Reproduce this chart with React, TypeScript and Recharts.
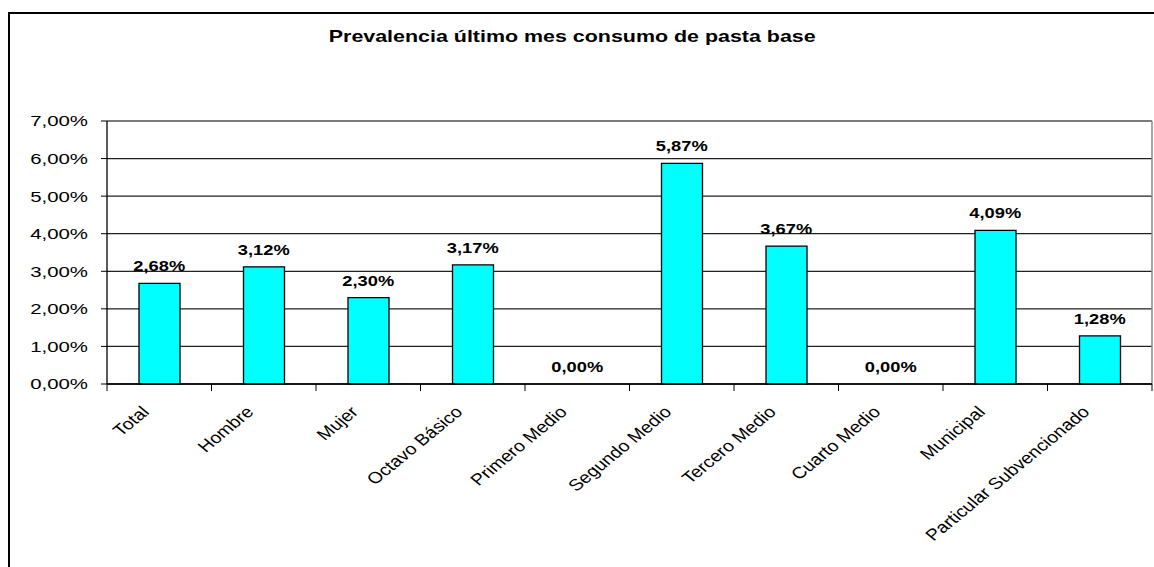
import { ComposedChart, Bar, Line, XAxis, YAxis, CartesianGrid, LabelList, ReferenceLine } from 'recharts'

const categories = [
  'Total',
  'Hombre',
  'Mujer',
  'Octavo Básico',
  'Primero Medio',
  'Segundo Medio',
  'Tercero Medio',
  'Cuarto Medio',
  'Municipal',
  'Particular Subvencionado',
]
const prevalence = [2.68, 3.12, 2.3, 3.17, 0, 5.87, 3.67, 0, 4.09, 1.28]
const yTicks = [0, 1, 2, 3, 4, 5, 6, 7]

const data = categories.map((name, i) => ({ name, value: prevalence[i] }))

const W = 1144
const H = 553
const Y_W = 97
const RIGHT = 2
const BAND = (W - Y_W - RIGHT) / categories.length
const FONT = '"Liberation Sans", Arial, sans-serif'

const pct = (v: number) => v.toFixed(2).replace('.', ',') + '%'

function YTick({ x, y, payload }: any) {
  return (
    <g transform={`translate(${x},${y})`}>
      <text transform="scale(1.36,1)" textAnchor="end" dy="0.36em" fontSize={15} fontFamily={FONT} fill="#000">
        {pct(payload.value)}
      </text>
    </g>
  )
}

function XTick({ x, y, payload, index }: any) {
  const half = BAND / 2
  return (
    <g>
      <line x1={x - half} x2={x - half} y1={y} y2={y + 7} stroke="#000" />
      {index === categories.length - 1 && <line x1={x + half} x2={x + half} y1={y} y2={y + 7} stroke="#000" />}
      <g transform={`translate(${x - 9},${y + 29}) scale(1.22,1) rotate(-45)`}>
        <text textAnchor="end" fontSize={16} fontFamily={FONT} fill="#000">
          {payload.value}
        </text>
      </g>
    </g>
  )
}

function ValueLabel({ x, y, value }: any) {
  return (
    <g transform={`translate(${x},${y - 12})`}>
      <text transform="scale(1.22,1)" textAnchor="middle" fontSize={15} fontWeight="bold" fontFamily={FONT} fill="#000">
        {pct(value)}
      </text>
    </g>
  )
}

// gray frame on the right edge of the plot
const rightEdge = ({ offset }: any) => [offset.left + offset.width]

export default function App() {
  return (
    <>
      <style>{'html,body{margin:0;overflow:hidden;background:#fff}'}</style>
      <div
        style={{
          position: 'absolute',
          left: 8,
          top: 12,
          width: 1146,
          height: H + 2,
          boxSizing: 'border-box',
          overflow: 'hidden',
          borderTop: '2px solid #000',
          borderLeft: '2px solid #000',
          background: '#fff',
        }}
      >
        <div
          style={{
            position: 'absolute',
            left: 0,
            top: 13,
            width: 1124,
            textAlign: 'center',
            fontFamily: FONT,
            fontWeight: 'bold',
            fontSize: 17,
            lineHeight: '20px',
          }}
        >
          <span style={{ display: 'inline-block', transform: 'scaleX(1.26)' }}>
            Prevalencia último mes consumo de pasta base
          </span>
        </div>
        <div style={{ position: 'absolute', left: 0, top: 0 }}>
          <ComposedChart width={W} height={H} data={data} margin={{ top: 107, right: RIGHT, left: 0, bottom: 0 }}>
            <CartesianGrid vertical={false} stroke="#222" strokeWidth={1.3} />
            <CartesianGrid horizontal={false} verticalCoordinatesGenerator={rightEdge} stroke="#888" strokeWidth={1.5} />
            <ReferenceLine y={7} stroke="#888" strokeWidth={1.3} />
            <XAxis
              dataKey="name"
              interval={0}
              height={H - 370}
              tickSize={0}
              tickMargin={0}
              tickLine={false}
              axisLine={{ stroke: '#000', strokeWidth: 1.3 }}
              tick={<XTick />}
            />
            <YAxis
              domain={[0, 7]}
              ticks={yTicks}
              interval={0}
              width={Y_W}
              tickSize={6}
              tickMargin={13}
              axisLine={{ stroke: '#000', strokeWidth: 1.3 }}
              tickLine={{ stroke: '#000' }}
              tick={<YTick />}
            />
            <Bar dataKey="value" barSize={41} fill="#00FFFF" stroke="#000" strokeWidth={1.3} isAnimationActive={false} />
            <Line dataKey="value" stroke="none" dot={false} activeDot={false} legendType="none" isAnimationActive={false}>
              <LabelList dataKey="value" content={<ValueLabel />} />
            </Line>
          </ComposedChart>
        </div>
      </div>
    </>
  )
}
